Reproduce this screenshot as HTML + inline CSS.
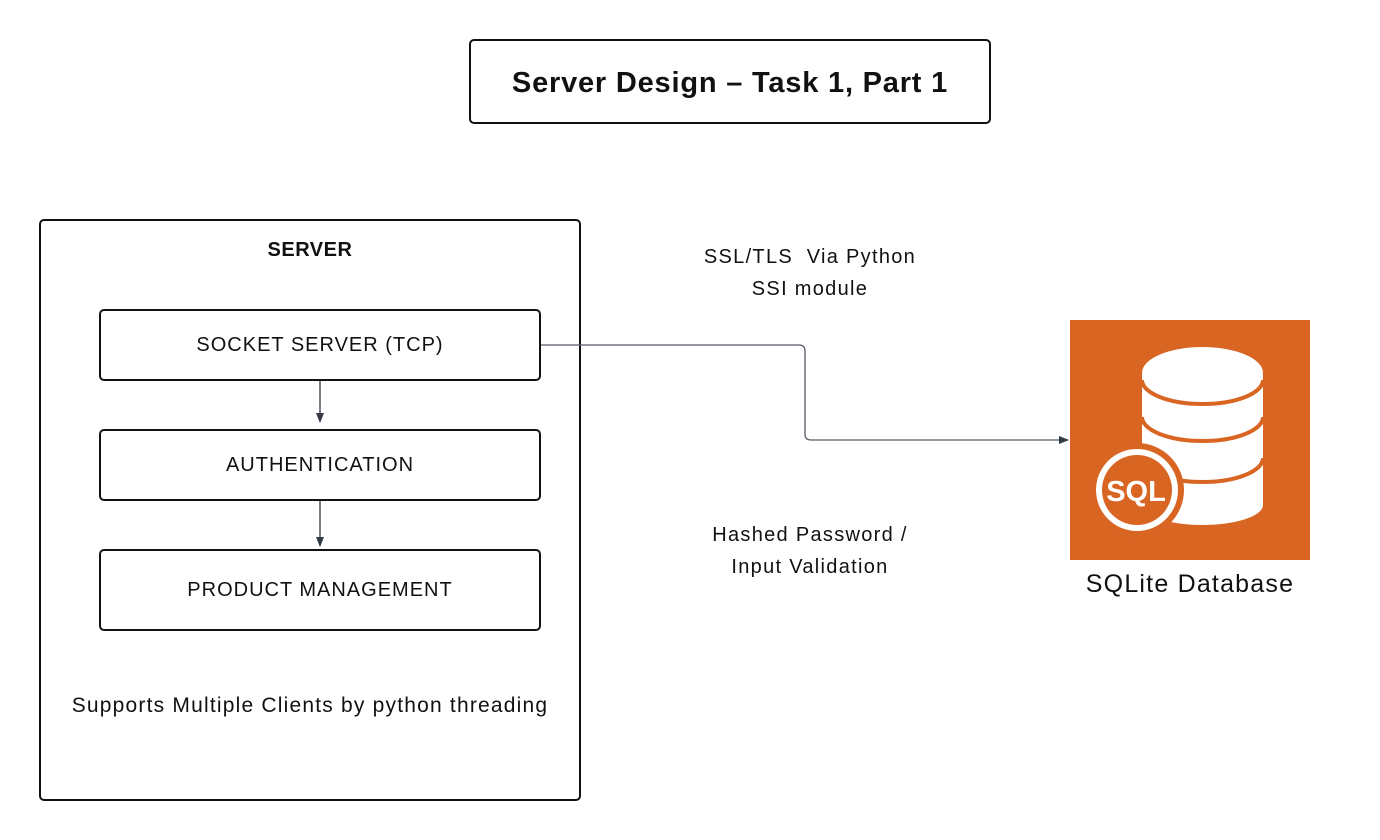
<!DOCTYPE html>
<html><head><meta charset="utf-8"><style>
body{margin:0;background:#fff;width:1380px;height:840px;position:relative;font-family:"Liberation Sans",sans-serif;overflow:hidden}
.b{position:absolute;border:2px solid #111;border-radius:5px;box-sizing:border-box;display:flex;align-items:center;justify-content:center;color:#111;letter-spacing:1px}
.t{position:absolute;color:#111;text-align:center}
</style></head><body>
<div class="b" style="left:469px;top:39px;width:522px;height:85px;font-weight:bold;font-size:29px;letter-spacing:0.8px;padding-top:3px">Server Design – Task 1, Part 1</div>
<div class="b" style="left:39px;top:219px;width:542px;height:582px"></div>
<div class="t" style="left:39px;top:239px;width:542px;font-weight:bold;font-size:20px;letter-spacing:0.5px">SERVER</div>
<div class="b" style="left:99px;top:309px;width:442px;height:72px;font-size:20px">SOCKET SERVER (TCP)</div>
<div class="b" style="left:99px;top:429px;width:442px;height:72px;font-size:20px">AUTHENTICATION</div>
<div class="b" style="left:99px;top:549px;width:442px;height:82px;font-size:20px">PRODUCT MANAGEMENT</div>
<div class="t" style="left:29px;top:694px;width:562px;font-size:21px;letter-spacing:1.2px">Supports Multiple Clients by python threading</div>
<div class="t" style="left:660px;top:241px;width:300px;font-size:20px;line-height:32px;letter-spacing:1.3px">SSL/TLS&nbsp; Via Python<br>SSI module</div>
<div class="t" style="left:660px;top:519px;width:300px;font-size:20px;line-height:32px;letter-spacing:1.3px">Hashed Password /<br>Input Validation</div>
<div class="t" style="left:1040px;top:570px;width:300px;font-size:25px;letter-spacing:1.2px">SQLite Database</div>
<svg width="1380" height="840" style="position:absolute;left:0;top:0">
<defs><marker id="a" markerWidth="10" markerHeight="10" refX="9" refY="5" orient="auto" markerUnits="userSpaceOnUse"><path d="M0,1 L10,5 L0,9 z" fill="#333a45"/></marker></defs>
<path d="M320,381 V422" stroke="#333a45" stroke-width="1.3" fill="none" marker-end="url(#a)"/>
<path d="M320,501 V546" stroke="#333a45" stroke-width="1.3" fill="none" marker-end="url(#a)"/>
<path d="M541,345 H799 Q805,345 805,351 V434 Q805,440 811,440 H1068" stroke="#555c66" stroke-width="1.3" fill="none" marker-end="url(#a)"/>
<rect x="1070" y="320" width="240" height="240" fill="#d96523"/>
<g fill="#fff">
<path d="M1142,375 V505 A60.5,20 0 0 0 1263,505 V375 Z"/>
<ellipse cx="1202.5" cy="373" rx="60.5" ry="26"/>
</g>
<g stroke="#d96523" stroke-width="4" fill="none">
<path d="M1142,380 A60.5,24 0 0 0 1263,380"/>
<path d="M1142,417 A60.5,24 0 0 0 1263,417"/>
<path d="M1142,458 A60.5,24 0 0 0 1263,458"/>
</g>
<circle cx="1137" cy="490" r="47" fill="#d96523"/>
<circle cx="1137" cy="490" r="41" fill="#fff"/>
<circle cx="1137" cy="490" r="35" fill="#d96523"/>
<text x="1136" y="501" text-anchor="middle" font-family="Liberation Sans" font-weight="bold" font-size="29" fill="#fff">SQL</text>
</svg>
</body></html>
